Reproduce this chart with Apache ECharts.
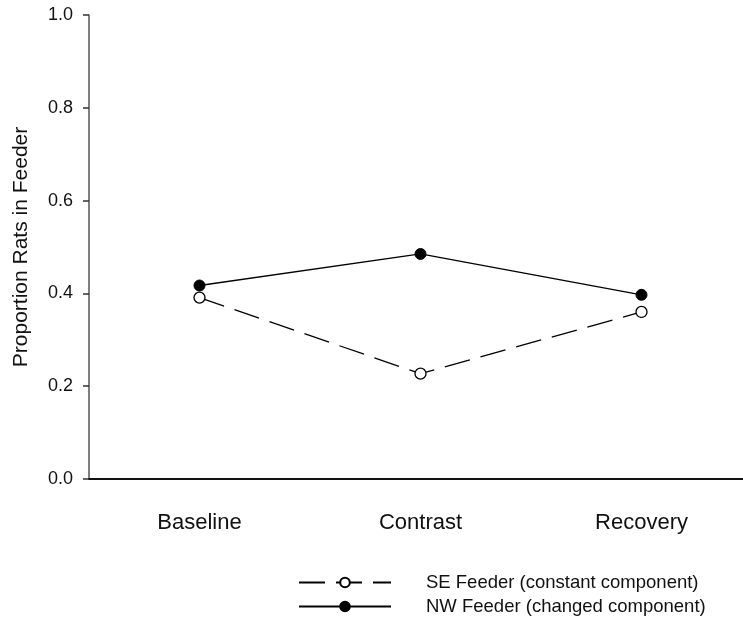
<!DOCTYPE html>
<html>
<head>
<meta charset="utf-8">
<script src="https://cdn.jsdelivr.net/npm/echarts@6/dist/echarts.min.js"></script>
<style>html,body{margin:0;padding:0;background:#fff;overflow:hidden;width:743px;height:618px}#c{width:752px;height:618px}</style>
</head>
<body>
<div id="c"></div>
<script>
const categories = ['Baseline', 'Contrast', 'Recovery'];
const seName = 'SE Feeder (constant component)';
const nwName = 'NW Feeder (changed component)';
const seValues = [0.391, 0.227, 0.360];
const nwValues = [0.417, 0.485, 0.397];
const yTicks = { min: 0, max: 1, interval: 0.2 };

const FONT = '"Liberation Sans", Arial, Helvetica, sans-serif';
const legendBase = {
  orient: 'horizontal',
  left: 298,
  padding: 0,
  itemWidth: 92, itemHeight: 12,
  textStyle: { fontFamily: FONT, fontSize: 18.5, color: '#111', padding: [0, 0, 0, 30] }
};
const chart = echarts.init(document.getElementById('c'), null, { renderer: 'canvas' });
chart.setOption({
  animation: false,
  backgroundColor: '#fff',
  grid: { left: 89, top: 15, right: 0, bottom: 139, containLabel: false },
  legend: [
    Object.assign({}, legendBase, { top: 573, data: [seName] }),
    Object.assign({}, legendBase, { top: 597, data: [nwName] })
  ],
  xAxis: {
    type: 'category',
    data: categories,
    boundaryGap: true,
    axisLine: { lineStyle: { color: '#111', width: 2 } },
    axisTick: { alignWithLabel: true, length: 7, lineStyle: { color: '#111', width: 1.5 } },
    axisLabel: { fontFamily: FONT, fontSize: 22, color: '#111', margin: 33 },
    splitLine: { show: false }
  },
  yAxis: {
    type: 'value',
    min: yTicks.min, max: yTicks.max, interval: yTicks.interval,
    name: 'Proportion Rats in Feeder',
    nameLocation: 'middle',
    nameGap: 57,
    nameTextStyle: { fontFamily: FONT, fontSize: 21, color: '#111' },
    axisLine: { show: true, lineStyle: { color: '#555', width: 1.5 } },
    axisTick: { show: true, length: 6, lineStyle: { color: '#333', width: 1.5 } },
    axisLabel: { fontFamily: FONT, fontSize: 18, color: '#111', margin: 16, formatter: v => v.toFixed(1) },
    splitLine: { show: false }
  },
  series: [
    {
      name: seName, type: 'line', data: seValues,
      symbol: 'circle', symbolSize: 11,
      lineStyle: { color: '#000', width: 1.3, type: [26, 11] },
      itemStyle: { color: '#fff', borderColor: '#000', borderWidth: 1.3 },
      z: 2
    },
    {
      name: nwName, type: 'line', data: nwValues,
      symbol: 'circle', symbolSize: 11,
      lineStyle: { color: '#000', width: 1.3 },
      itemStyle: { color: '#000', borderColor: '#000', borderWidth: 1 },
      z: 3
    }
  ]
});
</script>
</body>
</html>
